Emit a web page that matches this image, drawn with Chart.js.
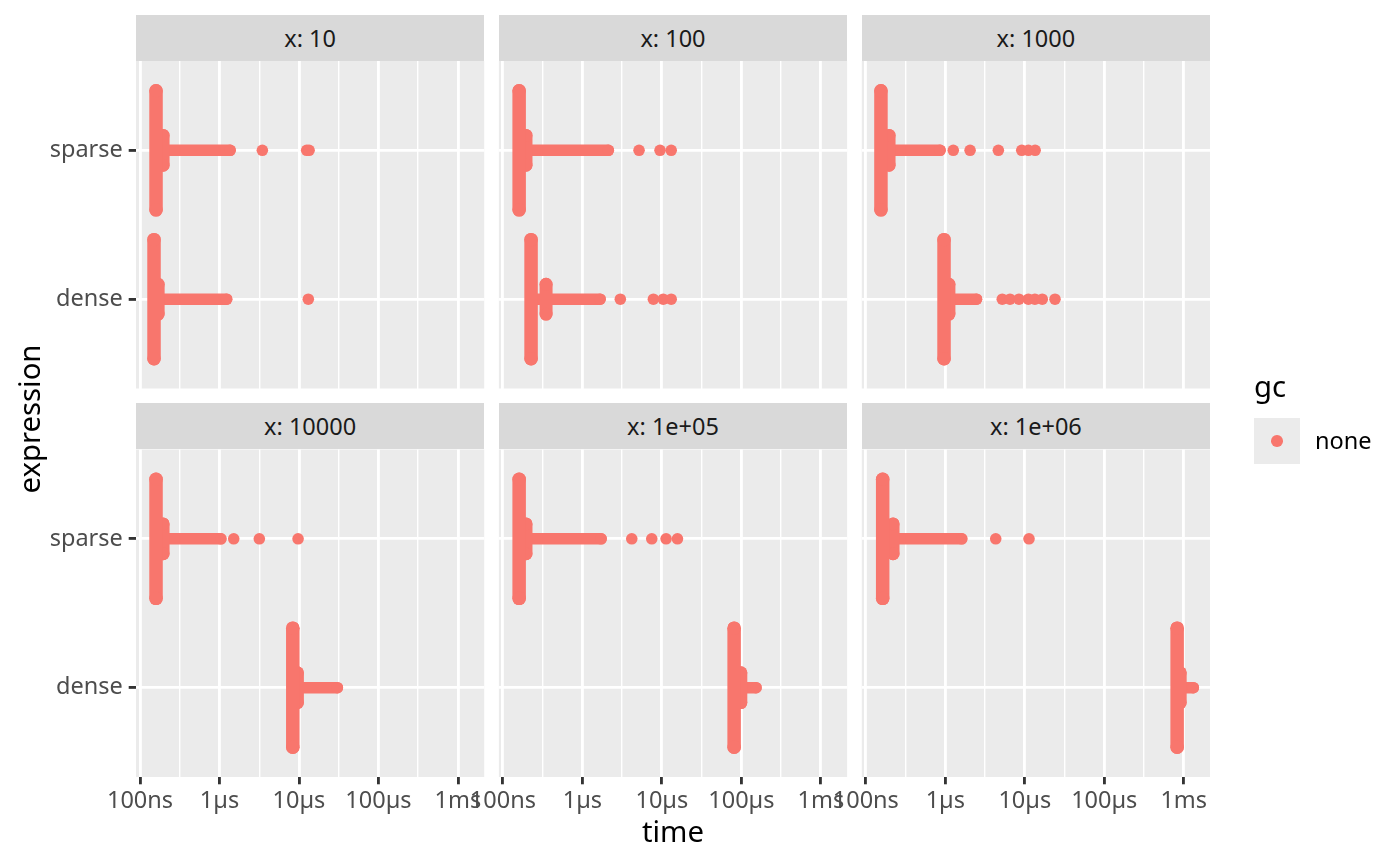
<!DOCTYPE html>
<html>
<head>
<meta charset="utf-8">
<script src="https://cdn.jsdelivr.net/npm/chart.js@4.4.0/dist/chart.umd.min.js"></script>
<style>
  html, body { margin:0; padding:0; background:#ffffff; width:1400px; height:865px; overflow:hidden; font-family:'Noto Sans', sans-serif; }
  canvas { position:absolute; left:0; top:0; }
  .strip { position:absolute; background:#D9D9D9; color:#1A1A1A; font-size:23.5px; display:flex; align-items:center; justify-content:center; white-space:nowrap; }
  .txt { position:absolute; white-space:nowrap; line-height:1; }
</style>
</head>
<body>
<script>
// ---------------- data ----------------
const panels = ['x: 10', 'x: 100', 'x: 1000', 'x: 10000', 'x: 1e+05', 'x: 1e+06'];
const expressions = ['dense', 'sparse'];
const legendTitle = 'gc';
const legendLabels = ['none'];
const xTitle = 'time';
const yTitle = 'expression';

// time values in seconds (one entry per panel)
const denseMode    = [1.50e-7, 2.26e-7, 9.64e-7, 8.36e-6, 8.11e-5, 8.26e-4];
const denseBulge   = [1.69e-7, 3.49e-7, 1.11e-6, 9.55e-6, 9.84e-5, 9.02e-4];
const denseTailEnd = [1.23e-6, 1.67e-6, 2.47e-6, 3.04e-5, 1.53e-4, 1.32e-3];
const denseOutliers = [
  [1.31e-5],
  [3.0e-6, 7.82e-6, 1.04e-5, 1.31e-5],
  [5.21e-6, 6.52e-6, 8.45e-6, 1.11e-5, 1.34e-5, 1.66e-5, 2.40e-5],
  [], [], []
];
const sparseMode    = [1.59e-7, 1.60e-7, 1.55e-7, 1.59e-7, 1.60e-7, 1.63e-7];
const sparseBulge   = [1.95e-7, 1.95e-7, 1.96e-7, 1.95e-7, 1.95e-7, 2.20e-7];
const sparseTailEnd = [1.36e-6, 2.12e-6, 8.59e-7, 1.04e-6, 1.72e-6, 1.61e-6];
const sparseOutliers = [
  [3.46e-6, 1.25e-5, 1.34e-5],
  [5.16e-6, 9.48e-6, 1.31e-5],
  [1.26e-6, 2.05e-6, 4.65e-6, 9.16e-6, 1.11e-5, 1.35e-5],
  [1.51e-6, 3.17e-6, 9.74e-6],
  [4.18e-6, 7.46e-6, 1.13e-5, 1.57e-5],
  [4.31e-6, 1.13e-5]
];

// axis breaks
const timeLimits = [8.9e-8, 2.14e-3];
const majorBreaks = [1e-7, 1e-6, 1e-5, 1e-4, 1e-3];
const majorLabels = ['100ns', '1µs', '10µs', '100µs', '1ms'];
const minorBreaks = [3.1623e-7, 3.1623e-6, 3.1623e-5, 3.1623e-4];

// ---------------- style / layout ----------------
const COL = { point:'#F8766D', panel:'#EBEBEB', grid:'#FFFFFF', tick:'#333333', axisText:'#4D4D4D' };
const FAMILY = "'Noto Sans', sans-serif";
const colLeft = [136, 498.9, 861.8];
const rowTop = [61, 449.5];
const PANEL_W = 348.2, PANEL_H = 327.5, STRIP_H = 46.3;
const XAXIS_H = 50;
const BAND = 0.4, BULGE = 0.1;
const MAJOR_LW = 2.85, MINOR_LW = 1.42, TICK_LEN = 7.3;

const isMajor = v => Math.abs(Math.log10(v) - Math.round(Math.log10(v))) < 1e-6;

const bgPlugin = {
  id: 'panelBg',
  beforeDraw(chart) {
    const { ctx, chartArea: a } = chart;
    ctx.save();
    ctx.fillStyle = COL.panel;
    ctx.fillRect(a.left, a.top, a.right - a.left, a.bottom - a.top);
    ctx.restore();
  }
};

function groupDatasets(yPos, mode, bulge, tailEnd, outliers) {
  // a run of overlapping points drawn as a thick segment with round (point) ends
  const seg = (data, w) => ({
    data, showLine: true, borderColor: COL.point, backgroundColor: COL.point,
    borderWidth: w, borderCapStyle: 'round',
    pointRadius: w / 2, pointHoverRadius: w / 2, pointBorderWidth: 0,
    pointBackgroundColor: COL.point, fill: false
  });
  return [
    seg([{ x: mode, y: yPos - BAND }, { x: mode, y: yPos + BAND }], 13.5),
    seg([{ x: bulge, y: yPos - BULGE }, { x: bulge, y: yPos + BULGE }], 13),
    seg([{ x: mode, y: yPos }, { x: tailEnd, y: yPos }], 11.5),
    { data: outliers.map(t => ({ x: t, y: yPos })), showLine: false, pointRadius: 5.8,
      pointHoverRadius: 5.8, backgroundColor: COL.point, borderWidth: 0 }
  ];
}

panels.forEach((label, i) => {
  const r = Math.floor(i / 3), c = i % 3;
  const isLeft = c === 0, isBottom = r === 1;
  const left = colLeft[c], top = rowTop[r];

  // strip
  const strip = document.createElement('div');
  strip.className = 'strip';
  strip.style.left = left + 'px';
  strip.style.top = (top - STRIP_H) + 'px';
  strip.style.width = PANEL_W + 'px';
  strip.style.height = STRIP_H + 'px';
  strip.textContent = label;
  document.body.appendChild(strip);

  const cv = document.createElement('canvas');
  cv.width = 1400; cv.height = 865;
  document.body.appendChild(cv);

  const datasets = [
    ...groupDatasets(1, denseMode[i], denseBulge[i], denseTailEnd[i], denseOutliers[i]),
    ...groupDatasets(2, sparseMode[i], sparseBulge[i], sparseTailEnd[i], sparseOutliers[i])
  ];

  new Chart(cv, {
    type: 'scatter',
    data: { datasets },
    plugins: [bgPlugin],
    options: {
      responsive: false, animation: false, events: [],
      layout: { padding: {
        left: isLeft ? 0 : left,
        right: 1400 - (left + PANEL_W),
        top: top,
        bottom: 865 - (top + PANEL_H) - (isBottom ? XAXIS_H : 0)
      } },
      plugins: { legend: { display: false }, tooltip: { enabled: false }, title: { display: false } },
      scales: {
        x: {
          type: 'logarithmic', position: 'bottom', bounds: 'data',
          min: timeLimits[0], max: timeLimits[1],
          afterBuildTicks: s => { s.ticks = [...majorBreaks, ...minorBreaks].sort((a, b) => a - b).map(v => ({ value: v })); },
          afterFit: s => { s.height = isBottom ? XAXIS_H : 0; },
          border: { display: false },
          grid: {
            color: COL.grid,
            lineWidth: ctx => (ctx.tick && isMajor(ctx.tick.value)) ? MAJOR_LW : MINOR_LW,
            drawTicks: isBottom, tickLength: TICK_LEN, tickWidth: MAJOR_LW,
            tickColor: ctx => (ctx.tick && isMajor(ctx.tick.value)) ? COL.tick : 'rgba(0,0,0,0)'
          },
          ticks: {
            display: isBottom, autoSkip: false, maxRotation: 0, minRotation: 0, padding: 3,
            color: COL.axisText, font: { family: FAMILY, size: 23.5 },
            callback: v => {
              const k = majorBreaks.findIndex(b => Math.abs(Math.log10(b) - Math.log10(v)) < 1e-6);
              return k >= 0 ? majorLabels[k] : '';
            }
          }
        },
        y: {
          type: 'linear', position: 'left', bounds: 'data', min: 0.4, max: 2.6,
          afterBuildTicks: s => { s.ticks = expressions.map((e, k) => ({ value: k + 1 })); },
          afterFit: s => { s.width = isLeft ? colLeft[0] : 0; },
          border: { display: false },
          grid: { color: COL.grid, lineWidth: MAJOR_LW, drawTicks: isLeft, tickLength: TICK_LEN, tickWidth: MAJOR_LW, tickColor: COL.tick },
          ticks: {
            display: isLeft, padding: 5.9, color: COL.axisText, font: { family: FAMILY, size: 23.5 },
            callback: v => expressions[Math.round(v) - 1] ?? ''
          }
        }
      }
    }
  });
});

// axis titles
const xt = document.createElement('div');
xt.className = 'txt';
xt.style.cssText += 'left:573px;top:817px;width:200px;text-align:center;font-size:29.3px;color:#000;';
xt.textContent = xTitle;
document.body.appendChild(xt);

const yt = document.createElement('div');
yt.className = 'txt';
yt.style.cssText += 'left:-121px;top:404px;width:300px;height:30px;line-height:30px;text-align:center;font-size:29.3px;color:#000;transform:rotate(-90deg);';
yt.textContent = yTitle;
document.body.appendChild(yt);

// legend
const lt = document.createElement('div');
lt.className = 'txt';
lt.style.cssText += 'left:1254px;top:372px;font-size:29.3px;color:#000;';
lt.textContent = legendTitle;
document.body.appendChild(lt);

legendLabels.forEach((lab, k) => {
  const key = document.createElement('div');
  key.style.cssText = `position:absolute;left:1254px;top:${417.7 + k * 46.3}px;width:46px;height:46.3px;background:${COL.panel};`;
  const dot = document.createElement('div');
  dot.style.cssText = `position:absolute;left:17.2px;top:17.3px;width:11.6px;height:11.6px;border-radius:50%;background:${COL.point};`;
  key.appendChild(dot);
  document.body.appendChild(key);
  const lx = document.createElement('div');
  lx.className = 'txt';
  lx.style.cssText += `left:1315px;top:${429 + k * 46.3}px;font-size:23.5px;color:#000;`;
  lx.textContent = lab;
  document.body.appendChild(lx);
});
</script>
</body>
</html>
